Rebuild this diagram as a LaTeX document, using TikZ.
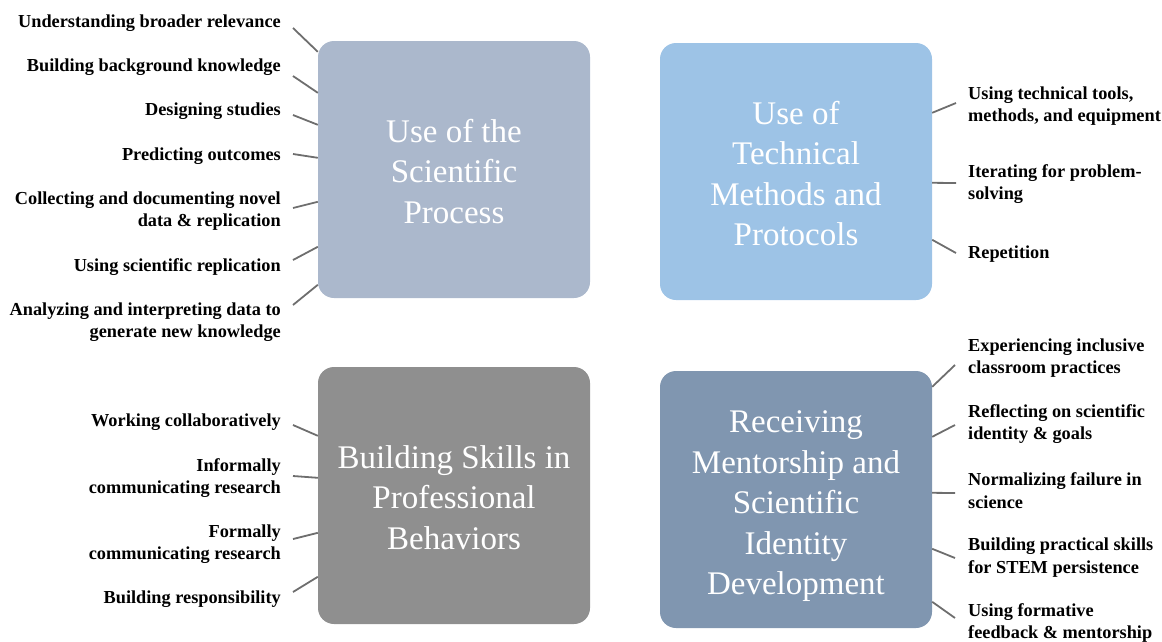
\documentclass[tikz,border=0pt]{standalone}
\usepackage{fontspec}
\setmainfont{Liberation Serif}
\usetikzlibrary{calc}
\definecolor{boxA}{RGB}{171,184,204}
\definecolor{boxB}{RGB}{157,195,230}
\definecolor{boxC}{RGB}{143,143,143}
\definecolor{boxD}{RGB}{128,150,176}
\definecolor{connc}{RGB}{110,110,110}
\tikzset{
  bigbox/.style={rounded corners=16pt, minimum width=272pt, minimum height=257pt, inner sep=0pt},
  boxtitle/.style={inner sep=0pt, text=white, align=center, font=\fontsize{33}{40.5}\selectfont},
  lablft/.style={anchor=east, align=right, inner sep=0pt, font=\bfseries\fontsize{18.3}{22.5}\selectfont},
  labrgt/.style={anchor=west, align=left, inner sep=0pt, font=\bfseries\fontsize{18.3}{22.5}\selectfont},
  conn/.style={draw=connc, line width=1.8pt}
}
\begin{document}
\begin{tikzpicture}[x=1pt,y=-1pt]
\useasboundingbox (0,0) rectangle (1162,641);
% boxes
\node[bigbox, fill=boxA] (b1) at (454,169.5) {};
\node[bigbox, fill=boxB] (b2) at (796,171.5) {};
\node[bigbox, fill=boxC] (b3) at (454,495.5) {};
\node[bigbox, fill=boxD] (b4) at (796,499.5) {};
\node[boxtitle] (b1t) at (454,171.5) {Use of the\\Scientific\\Process};
\node[boxtitle] (b2t) at (796,173.5) {Use of\\Technical\\Methods and\\Protocols};
\node[boxtitle] (b3t) at (454,497.5) {Building Skills in\\Professional\\Behaviors};
\node[boxtitle] (b4t) at (796,506.5) {Receiving\\Mentorship and\\Scientific\\Identity\\Development};
% box 1 labels
\node[lablft] (a1) at (281,23) {Understanding broader relevance};
\node[lablft] (a2) at (281,67) {Building background knowledge};
\node[lablft] (a3) at (281,111) {Designing studies};
\node[lablft] (a4) at (281,156) {Predicting outcomes};
\node[lablft] (a5) at (281,211) {Collecting and documenting novel\\data \& replication};
\node[lablft] (a6) at (281,267) {Using scientific replication};
\node[lablft] (a7) at (281,322) {Analyzing and interpreting data to\\generate new knowledge};
% box 3 labels
\node[lablft] (c1) at (281,422) {Working collaboratively};
\node[lablft] (c2) at (281,478) {Informally\\communicating research};
\node[lablft] (c3) at (281,544) {Formally\\communicating research};
\node[lablft] (c4) at (281,599) {Building responsibility};
% box 2 labels
\node[labrgt] (t1) at (968,106) {Using technical tools,\\methods, and equipment};
\node[labrgt] (t2) at (968,184) {Iterating for problem-\\solving};
\node[labrgt] (t3) at (968,254) {Repetition};
% box 4 labels
\node[labrgt] (m1) at (968,358) {Experiencing inclusive\\classroom practices};
\node[labrgt] (m2) at (968,424) {Reflecting on scientific\\identity \& goals};
\node[labrgt] (m3) at (968,490.5) {Normalizing failure in\\science};
\node[labrgt] (m4) at (968,557.5) {Building practical skills\\for STEM persistence};
\node[labrgt] (m5) at (968,623) {Using formative\\feedback \& mentorship};
% free ends of connectors
\coordinate (pa1) at (293,28);
\coordinate (pa2) at (293,76);
\coordinate (pa3) at (293,115);
\coordinate (pa4) at (293,154);
\coordinate (pa5) at (293,208);
\coordinate (pa6) at (293,260);
\coordinate (pa7) at (293,305);
\coordinate (pc1) at (293,425);
\coordinate (pc2) at (293,476);
\coordinate (pc3) at (293,539);
\coordinate (pc4) at (293,592);
\coordinate (pt1) at (956,103);
\coordinate (pt2) at (956,183);
\coordinate (pt3) at (956,253);
\coordinate (pm1) at (955,365);
\coordinate (pm2) at (955,425);
\coordinate (pm3) at (955,493);
\coordinate (pm4) at (955,558);
\coordinate (pm5) at (955,618);
% connectors
\draw[conn] (pa1) -- ($(b1.north west)+(0,11)$);
\draw[conn] (pa2) -- ($(b1.north west)+(0,52)$);
\draw[conn] (pa3) -- ($(b1.north west)+(0,84)$);
\draw[conn] (pa4) -- ($(b1.north west)+(0,117)$);
\draw[conn] (pa5) -- ($(b1.north west)+(0,161)$);
\draw[conn] (pa6) -- ($(b1.north west)+(0,206)$);
\draw[conn] (pa7) -- ($(b1.north west)+(0,244)$);
\draw[conn] (pc1) -- ($(b3.north west)+(0,69)$);
\draw[conn] (pc2) -- ($(b3.north west)+(0,111)$);
\draw[conn] (pc3) -- ($(b3.north west)+(0,166)$);
\draw[conn] (pc4) -- ($(b3.north west)+(0,210)$);
\draw[conn] ($(b2.north east)+(0,70)$) -- (pt1);
\draw[conn] ($(b2.north east)+(0,140)$) -- (pt2);
\draw[conn] ($(b2.north east)+(0,197)$) -- (pt3);
\draw[conn] ($(b4.north east)+(0,16)$) -- (pm1);
\draw[conn] ($(b4.north east)+(0,66)$) -- (pm2);
\draw[conn] ($(b4.north east)+(0,122)$) -- (pm3);
\draw[conn] ($(b4.north east)+(0,178)$) -- (pm4);
\draw[conn] ($(b4.north east)+(0,231)$) -- (pm5);
\end{tikzpicture}
\end{document}
